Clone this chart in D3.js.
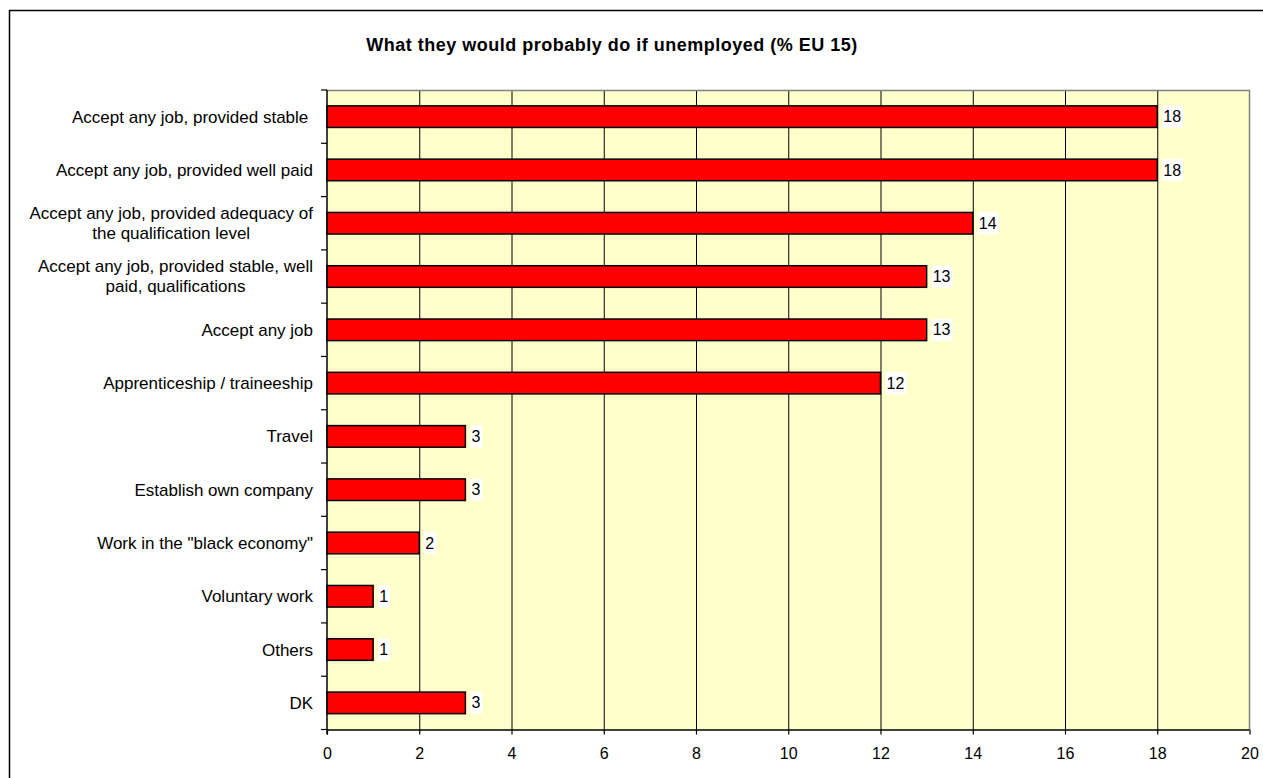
<!DOCTYPE html>
<html><head><meta charset="utf-8">
<script src="https://cdn.jsdelivr.net/npm/d3@7"></script>
<style>
html,body{margin:0;padding:0;background:#fff;}
svg{display:block;font-family:Arial,"Liberation Sans",sans-serif;}
</style></head>
<body>
<svg id="chart" width="1263" height="778"></svg>
<script>
const title = "What they would probably do if unemployed (% EU 15)";
const categories = [
  ["Accept any job, provided stable "],
  ["Accept any job, provided well paid"],
  ["Accept any job, provided adequacy of", "the qualification level"],
  ["Accept any job, provided stable, well", "paid, qualifications"],
  ["Accept any job"],
  ["Apprenticeship / traineeship"],
  ["Travel"],
  ["Establish own company"],
  ["Work in the \"black economy\""],
  ["Voluntary work"],
  ["Others"],
  ["DK"]
];
const values = [18, 18, 14, 13, 13, 12, 3, 3, 2, 1, 1, 3];
const xTicks = [0, 2, 4, 6, 8, 10, 12, 14, 16, 18, 20];

const svg = d3.select("#chart");
const L = 327, R = 1249.5, T = 90, B = 729.5;

// outer border
svg.append("rect").attr("x", 9.5).attr("y", 10.5).attr("width", 1300).attr("height", 800)
  .attr("fill", "#fff").attr("stroke", "#000").attr("stroke-width", 1.5);

const x = d3.scaleLinear().domain([0, 20]).range([L, R]);
const idx = categories.map((d, i) => i);
const y = d3.scaleBand().domain(idx).range([T, B]).paddingInner(0.595).paddingOuter(0.2975);
const yb = d3.scaleBand().domain(idx).range([T, B]);

// plot background
svg.append("rect").attr("x", L).attr("y", T).attr("width", R - L).attr("height", B - T)
  .attr("fill", "#FFFFCC");

// gridlines
svg.append("g").selectAll("line").data(xTicks.filter(t => t > 0 && t < 20)).join("line")
  .attr("x1", d => x(d) + 0.5).attr("x2", d => x(d) + 0.5)
  .attr("y1", T).attr("y2", B).attr("stroke", "#000").attr("stroke-width", 1);

// top & right border (grey)
svg.append("path").attr("d", `M${L},${T + 0.5}H${R}V${B}`)
  .attr("fill", "none").attr("stroke", "#808080").attr("stroke-width", 1.5);

// bars
svg.append("g").selectAll("rect").data(values).join("rect")
  .attr("x", x(0)).attr("y", (d, i) => y(i))
  .attr("width", d => x(d) - x(0)).attr("height", y.bandwidth())
  .attr("fill", "#FF0000").attr("stroke", "#000").attr("stroke-width", 1.5);

// value labels with white background
const vl = svg.append("g").selectAll("g").data(values).join("g")
  .attr("transform", (d, i) => `translate(${x(d) + 5},${yb(i) + yb.bandwidth() / 2})`);
vl.append("rect").attr("class", "bg").attr("fill", "#fff");
vl.append("text").attr("x", 1).attr("dy", "0.35em").attr("font-size", 16).attr("fill", "#000")
  .text(d => d);
vl.each(function () {
  const t = d3.select(this).select("text").node();
  const w = t.getComputedTextLength();
  d3.select(this).select("rect").attr("x", 0).attr("y", -11).attr("width", w + 3).attr("height", 22);
});

// x axis
const xAxis = d3.axisBottom(x).tickValues(xTicks).tickSize(5).tickPadding(13).tickFormat(d3.format("d"));
const gx = svg.append("g").attr("transform", `translate(0,${B})`).call(xAxis);
gx.select(".domain").attr("stroke", "#000").attr("stroke-width", 1.5).attr("d", `M${L},0.5H${R}`);
gx.selectAll(".tick line").attr("stroke", "#000").attr("stroke-width", 1.2);
gx.selectAll(".tick text").attr("font-size", 16).attr("fill", "#000").attr("font-family", "Arial, 'Liberation Sans', sans-serif");

// y axis line and ticks at band boundaries
svg.append("line").attr("x1", L).attr("x2", L).attr("y1", T).attr("y2", B + 5)
  .attr("stroke", "#000").attr("stroke-width", 1.5);
const bounds = idx.map(i => yb(i)).concat([B]);
svg.append("g").selectAll("line").data(bounds).join("line")
  .attr("x1", L - 6).attr("x2", L).attr("y1", d => d).attr("y2", d => d)
  .attr("stroke", "#000").attr("stroke-width", 1.2);

// category labels (right-aligned block, centered lines)
const labelRight = 313;
const cg = svg.append("g").selectAll("g").data(categories).join("g")
  .attr("transform", (d, i) => `translate(0,${yb(i) + yb.bandwidth() / 2})`);
cg.each(function (lines) {
  const g = d3.select(this);
  const lh = 20;
  const texts = lines.map((ln, j) => g.append("text")
    .attr("font-size", 17).attr("fill", "#000").style("white-space", "pre")
    .attr("y", (j - (lines.length - 1) / 2) * lh).attr("dy", "0.35em").text(ln));
  const widths = texts.map(t => t.node().getComputedTextLength());
  const maxW = d3.max(widths);
  if (lines.length === 1) {
    texts[0].attr("x", labelRight).attr("text-anchor", "end");
  } else {
    texts.forEach(t => t.attr("x", labelRight - maxW / 2).attr("text-anchor", "middle"));
  }
});

// title
svg.append("text").attr("x", 612).attr("y", 45).attr("dy", "0.35em").attr("text-anchor", "middle")
  .attr("font-size", 18).attr("font-weight", "bold").attr("letter-spacing", 0.5)
  .attr("fill", "#000").text(title);
</script>
</body></html>
